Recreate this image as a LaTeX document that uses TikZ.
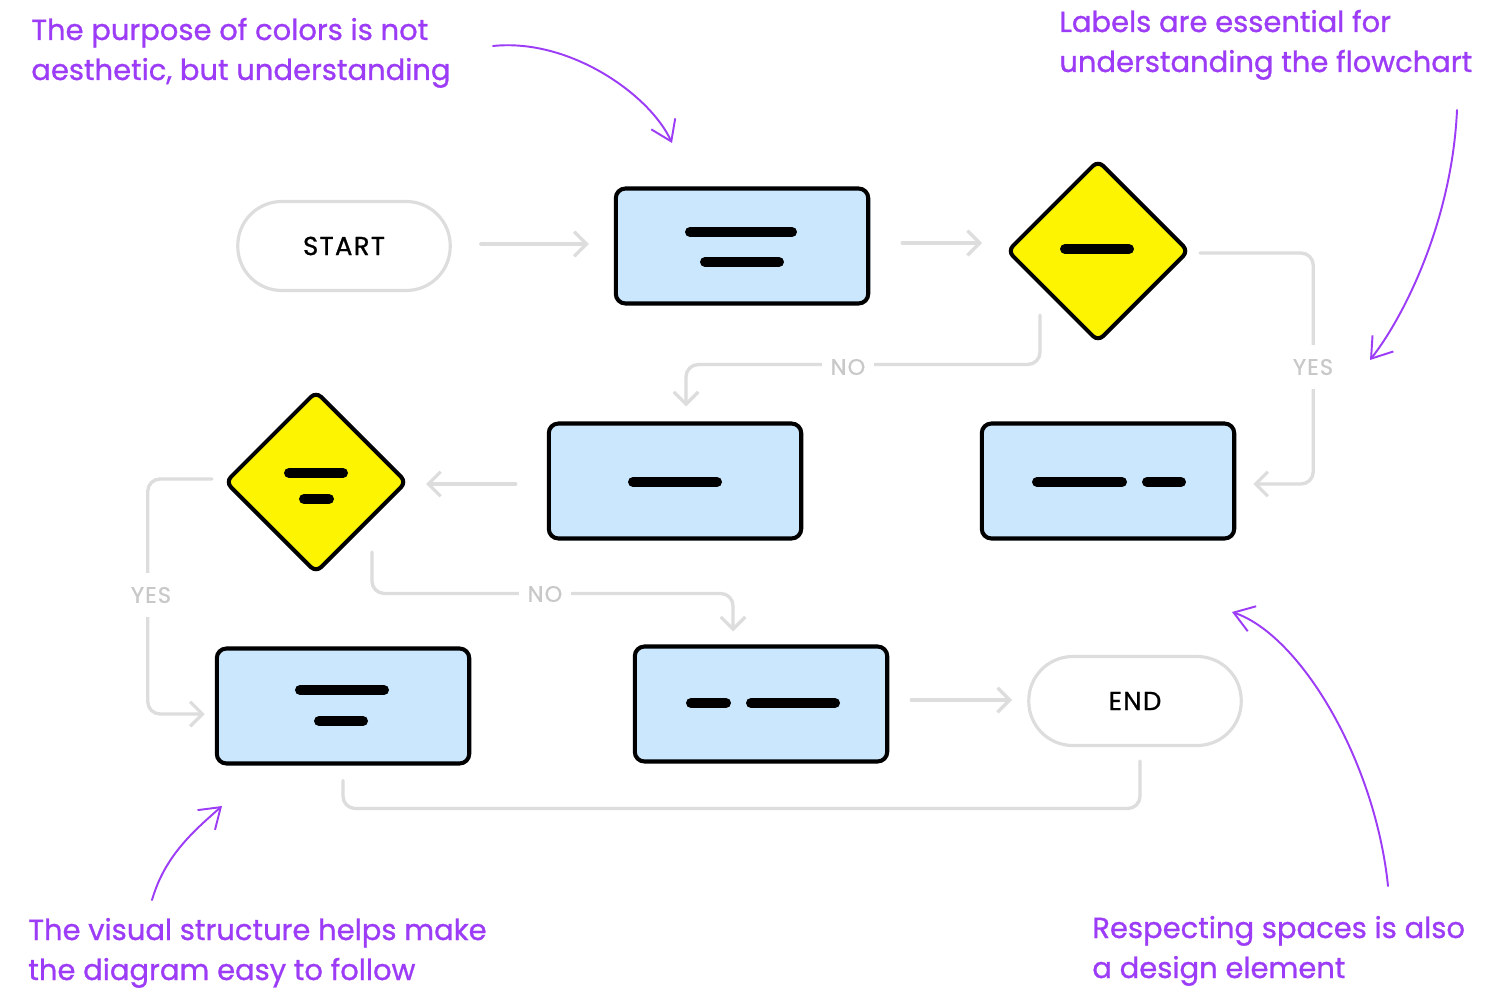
\documentclass[tikz,border=0pt]{standalone}
\usepackage{fontspec}
\setmainfont{Poppins}
\newfontfamily\notefont[FakeBold=0.9]{Poppins}
\newfontfamily\termfont[FakeBold=0.9,LetterSpace=5]{Poppins}
\newfontfamily\lblfont[FakeBold=0.6,LetterSpace=5]{Poppins}
\usetikzlibrary{arrows.meta,shapes.geometric}
\definecolor{purp}{RGB}{156,60,246}
\definecolor{boxblue}{RGB}{203,231,253}
\definecolor{ylw}{RGB}{252,244,0}
\definecolor{lgray}{RGB}{221,221,221}
\definecolor{lblgray}{RGB}{200,200,200}
\begin{document}
\begin{tikzpicture}[x=0.02cm,y=-0.02cm,
 procbox/.style={draw=black, line width=2.3pt, fill=boxblue, rounded corners=5.5pt, minimum width=5.05cm, minimum height=2.3cm, inner sep=0},
 decbox/.style={draw=black, line width=2.3pt, fill=ylw, diamond, rounded corners=4pt, minimum width=3.64cm, minimum height=3.64cm, inner sep=0},
 termbox/.style={draw=lgray, line width=1.8pt, rounded corners=0.88cm, minimum width=4.25cm, minimum height=1.78cm, font=\termfont\fontsize{14.8}{17}\selectfont},
 bar/.style={line width=5.7pt, line cap=round, black},
 conn/.style={draw=lgray, line width=1.9pt, line cap=round, rounded corners=7pt, -{Straight Barb[length=7pt,width=14pt]}},
 connplain/.style={draw=lgray, line width=1.9pt, line cap=round, rounded corners=7pt},
 lbl/.style={fill=white, text=lblgray, font=\lblfont\fontsize{12.8}{14}\selectfont, inner xsep=5pt, inner ysep=8pt},
 note/.style={text=purp, font=\notefont\fontsize{16.5}{19}\selectfont, anchor=base west, inner sep=0},
 pointer/.style={purp, line width=1.1pt, line cap=round, -{Straight Barb[length=11pt,width=15pt]}}
]
\fill[white] (0,0) rectangle (1500,1000);
\useasboundingbox (0,0) rectangle (1500,1000);

% nodes
\node[termbox] (tstart) at (344,246) {START};
\node[procbox] (b1) at (742,246) {};
\node[decbox] (d1) at (1098,251) {};
\node[procbox] (b2) at (675,481) {};
\node[procbox] (b3) at (1108,481) {};
\node[decbox] (d2) at (316,482) {};
\node[procbox] (b4) at (343,706) {};
\node[procbox] (b5) at (761,704) {};
\node[termbox] (tend) at (1135,701) {END};

% bars
\draw[bar] ([shift={(-52,-14)}]b1.center) -- ([shift={(50,-14)}]b1.center);
\draw[bar] ([shift={(-37,16)}]b1.center) -- ([shift={(37,16)}]b1.center);
\draw[bar] ([shift={(-42,1)}]b2.center) -- ([shift={(42,1)}]b2.center);
\draw[bar] ([shift={(-71,1)}]b3.center) -- ([shift={(14,1)}]b3.center);
\draw[bar] ([shift={(39,1)}]b3.center) -- ([shift={(73,1)}]b3.center);
\draw[bar] ([shift={(-43,-16)}]b4.center) -- ([shift={(41,-16)}]b4.center);
\draw[bar] ([shift={(-24,15)}]b4.center) -- ([shift={(20,15)}]b4.center);
\draw[bar] ([shift={(-70,-1)}]b5.center) -- ([shift={(-35,-1)}]b5.center);
\draw[bar] ([shift={(-10,-1)}]b5.center) -- ([shift={(74,-1)}]b5.center);
\draw[bar] ([shift={(-33,-2)}]d1.center) -- ([shift={(31,-2)}]d1.center);
\draw[bar] ([shift={(-27,-9)}]d2.center) -- ([shift={(27,-9)}]d2.center);
\draw[bar] ([shift={(-12,17)}]d2.center) -- ([shift={(13,17)}]d2.center);

% connectors
\draw[conn] ([shift={(29,-2)}]tstart.east) -- ([shift={(-25,-2)}]b1.west);
\draw[conn] ([shift={(32,-3)}]b1.east) -- ([shift={(-23,-8)}]d1.west);
\draw[conn] ([shift={(9,2)}]d1.east) -| ([shift={(77,3)}]b3.east) -- ([shift={(17,3)}]b3.east);
\draw[conn] ([shift={(-58,-29)}]d1.south) |- ([shift={(11,-57)}]b2.north) -- ([shift={(11,-15)}]b2.north);
\draw[conn] ([shift={(-31,3)}]b2.west) -- ([shift={(17,2)}]d2.east);
\draw[conn] ([shift={(-11,-3)}]d2.west) -| ([shift={(-67,8)}]b4.west) -- ([shift={(-10,8)}]b4.west);
\draw[conn] ([shift={(56,-23)}]d2.south) |- ([shift={(-28,-51)}]b5.north) -- ([shift={(-28,-13)}]b5.north);
\draw[conn] ([shift={(22,-4)}]b5.east) -- ([shift={(-15,-1)}]tend.west);
\draw[connplain] ([shift={(5,14)}]tend.south) |- ([shift={(0,43)}]b4.south) -- ([shift={(0,15)}]b4.south);

% connector labels
\node[lbl] (ly1) at (1313,367) {YES};
\node[lbl] (ln1) at (848,367) {NO};
\node[lbl] (ly2) at (151,595) {YES};
\node[lbl] (ln2) at (545,594) {NO};

% annotations
\node[note] (n1a) at (31,40) {The purpose of colors is not};
\node[note] (n1b) at (31,80) {aesthetic, but understanding};
\node[note] (n2a) at (1059,32) {Labels are essential for};
\node[note] (n2b) at (1059,72) {understanding the flowchart};
\node[note] (n3a) at (28,940) {The visual structure helps make};
\node[note] (n3b) at (28,980) {the diagram easy to follow};
\node[note] (n4a) at (1092,938) {Respecting spaces is also};
\node[note] (n4b) at (1092,978) {a design element};

\coordinate (p1s) at (493,46);  \coordinate (p1e) at (672,143);
\coordinate (p2s) at (1457,110); \coordinate (p2e) at (1370,360);
\coordinate (p3s) at (152,900);  \coordinate (p3e) at (222,806);
\coordinate (p4s) at (1388,886); \coordinate (p4e) at (1232,612);
\draw[pointer] (p1s) .. controls (570,38) and (650,95) .. (p1e);
\draw[pointer] (p2s) .. controls (1452,220) and (1405,315) .. (p2e);
\draw[pointer] (p3s) .. controls (165,855) and (195,830) .. (p3e);
\draw[pointer] (p4s) .. controls (1375,760) and (1300,635) .. (p4e);
\end{tikzpicture}
\end{document}
